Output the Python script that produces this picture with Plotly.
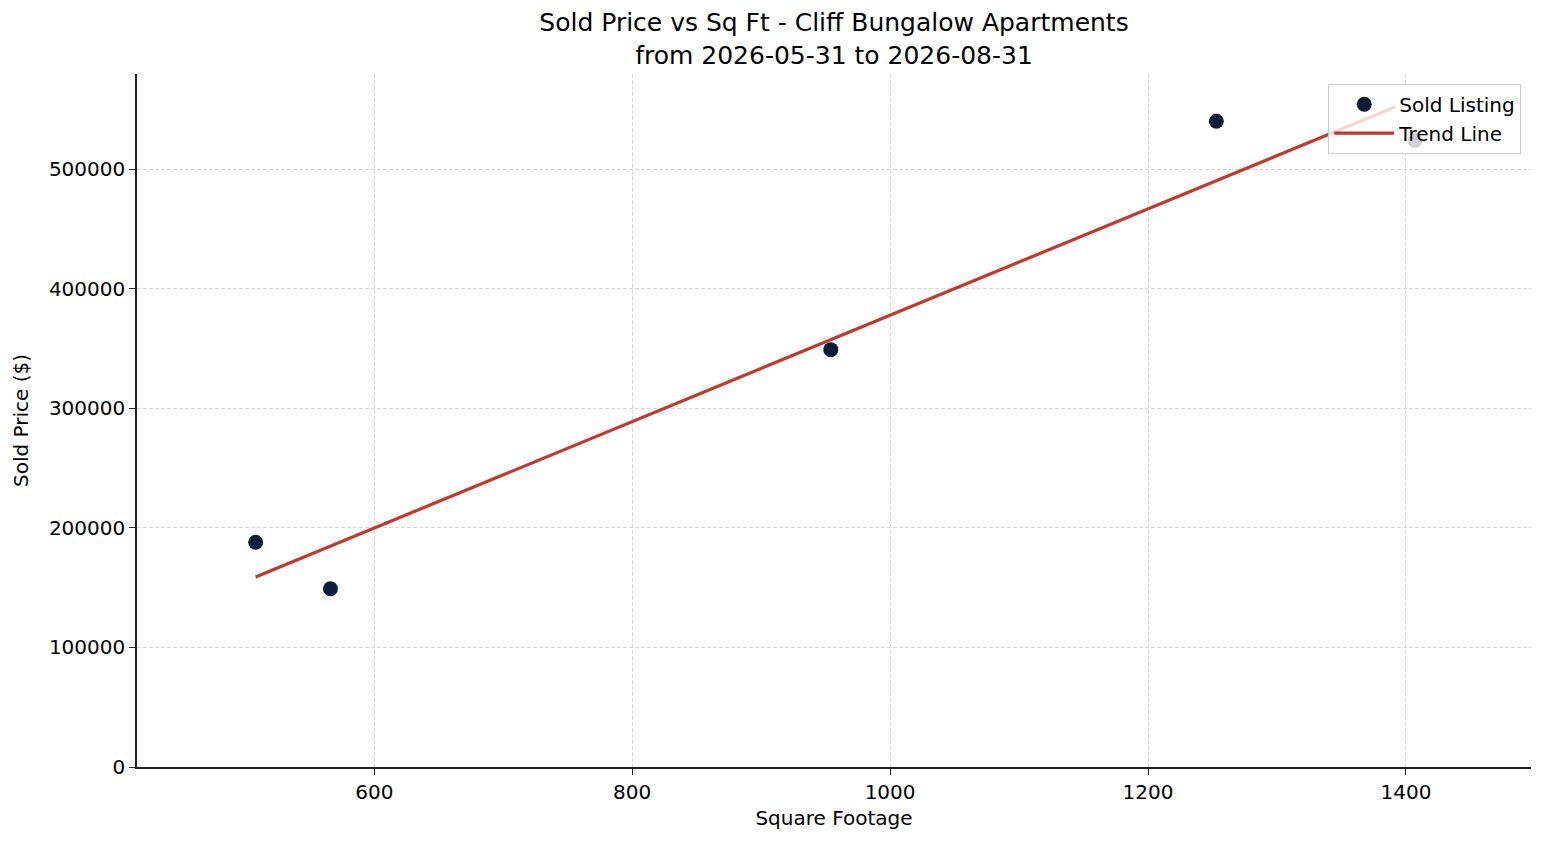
import numpy as np
import plotly.graph_objects as go

# sold listings
sqft = [508, 566, 954, 1253, 1407]
sold_price = [188000, 149000, 349000, 540000, 524000]

# trend line range
trend_x = [508, 1392]

slope, intercept = np.polyfit(sqft, sold_price, 1)
trend_y = [slope * x + intercept for x in trend_x]

fig = go.Figure()
fig.add_trace(go.Scatter(
    x=sqft, y=sold_price, mode='markers', name='Sold Listing',
    marker=dict(size=15, color='#0b1f3a')
))
fig.add_trace(go.Scatter(
    x=trend_x, y=trend_y, mode='lines', name='Trend Line',
    line=dict(color='#c0392b', width=3.2)
))

# matplotlib-ish axes: dashed grid, only left/bottom spines
axis_common = dict(
    showgrid=True, gridcolor='#d6d6d6', griddash='4px,2px', gridwidth=0.8,
    showline=True, linecolor='#222222', linewidth=1.5,
    ticks='outside', ticklen=6, tickcolor='#222222', tickwidth=1.3,
    tickfont=dict(size=20, color='black'), zeroline=False,
)

# page body has an 8px margin, so the figure is a bit smaller
fig.update_layout(
    width=1531, height=829,
    paper_bgcolor='white', plot_bgcolor='white',
    font=dict(family='DejaVu Sans', color='black'),
    title=dict(
        text='Sold Price vs Sq Ft - Cliff Bungalow Apartments<br>from 2026-05-31 to 2026-08-31',
        x=0.5, xref='paper', xanchor='center',
        yref='container', y=0.972, yanchor='middle',
        font=dict(size=25)
    ),
    margin=dict(l=129, r=8, t=66, b=70),
    xaxis=dict(title=dict(text='Square Footage', font=dict(size=20), standoff=8),
               range=[416, 1497], tickvals=[600, 800, 1000, 1200, 1400], **axis_common),
    yaxis=dict(title=dict(text='Sold Price ($)', font=dict(size=20), standoff=15),
               range=[0, 579500], tickformat='d', dtick=100000, **axis_common),
    legend=dict(
        x=0.993, y=0.986, xanchor='right', yanchor='top',
        bgcolor='rgba(255,255,255,0.8)', bordercolor='#cccccc', borderwidth=1,
        font=dict(size=20), tracegroupgap=0, itemwidth=60
    ),
    showlegend=True,
)

fig.write_html("out.html")
